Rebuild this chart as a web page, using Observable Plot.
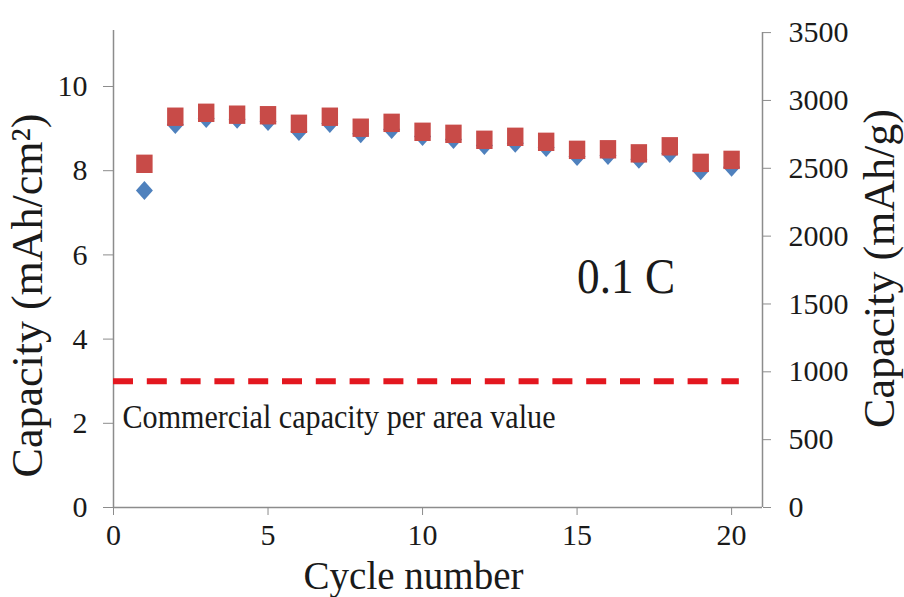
<!DOCTYPE html>
<html><head><meta charset="utf-8">
<script src="https://cdn.jsdelivr.net/npm/d3@7"></script>
<script src="https://cdn.jsdelivr.net/npm/@observablehq/plot@0.6"></script>
<style>body{margin:0;background:#fff} #chart{width:904px;height:597px}</style>
</head><body><div id="chart"></div>
<script>
// ---- data ----
const cycles = [1, 2, 3, 4, 5, 6, 7, 8, 9, 10, 11, 12, 13, 14, 15, 16, 17, 18, 19, 20];
// areal capacity, mAh/cm² (left axis, blue diamonds)
const areaCapacity = [7.53, 9.10, 9.24, 9.22, 9.17, 8.93, 9.12, 8.88, 8.98, 8.81, 8.74, 8.60, 8.65, 8.55, 8.34, 8.36, 8.27, 8.41, 8.00, 8.08];
// specific capacity, mAh/g (right axis, red squares)
const gravCapacity = [2533, 2880, 2909, 2895, 2891, 2828, 2880, 2799, 2835, 2769, 2754, 2710, 2732, 2695, 2636, 2640, 2610, 2662, 2540, 2562];
const commercialArea = [3.0];
const commercialLabel = ["Commercial capacity per area value"];
const rateLabel = ["0.1 C"];
const xTicks = [0, 5, 10, 15, 20];
const leftTicks = [0, 2, 4, 6, 8, 10];
const rightTicks = [0, 500, 1000, 1500, 2000, 2500, 3000, 3500];
const xTitle = ["Cycle number"];
const leftTitle = ["Capacity (mAh/cm²)"];
const rightTitle = ["Capacity (mAh/g)"];

// ---- scale setup ----
const xMax = 21;
const leftMax = 11.33;
const ratio = 3500 / 11.28; // mAh/g per mAh/cm² at the same height
const toLeft = v => v / ratio;

const squareSym = {draw(ctx, size) {
  const r = Math.sqrt(size / Math.PI), w = r * 0.82, h = r * 0.92;
  ctx.rect(-w, -h, 2 * w, 2 * h);
}};
const diamondSym = {draw(ctx, size) {
  const r = Math.sqrt(size / Math.PI), w = r * 0.85, h = r * 0.95;
  ctx.moveTo(0, -h); ctx.lineTo(w, 0); ctx.lineTo(0, h); ctx.lineTo(-w, 0); ctx.closePath();
}};

const serif = "'Liberation Serif', 'Times New Roman', serif";
const axisGray = "#8c8c8c";
const ink = "#1a1a1a";

const chart = Plot.plot({
  width: 904, height: 597,
  marginLeft: 113, marginRight: 142, marginTop: 30, marginBottom: 90,
  x: {domain: [0, xMax]},
  y: {domain: [0, leftMax]},
  style: {fontFamily: serif, background: "#fff", color: ink},
  marks: [
    Plot.ruleX([0], {y1: 0, y2: leftMax, stroke: axisGray, strokeWidth: 1.5}),
    Plot.ruleX([xMax], {y1: 0, y2: toLeft(3500), stroke: axisGray, strokeWidth: 1.5}),
    Plot.ruleY([0], {x1: 0, x2: xMax, stroke: axisGray, strokeWidth: 1.5}),
    Plot.axisY(leftTicks, {anchor: "left", tickSize: 10, tickPadding: 16, fontSize: 30, fontFamily: serif, stroke: axisGray, fill: ink, label: null}),
    Plot.axisY(rightTicks.map(toLeft), {anchor: "right", tickSize: 8, tickPadding: 18, fontSize: 30, fontFamily: serif, stroke: axisGray, fill: ink, label: null,
      tickFormat: d => String(Math.round(d * ratio))}),
    Plot.axisX(xTicks, {anchor: "bottom", tickSize: 8, tickPadding: 8, fontSize: 30, fontFamily: serif, stroke: axisGray, fill: ink, label: null}),
    Plot.ruleY(commercialArea, {x1: 0, x2: 20.25, stroke: "#e3171f", strokeWidth: 6, strokeDasharray: "20,13.8"}),
    Plot.text(commercialLabel, {x: 0, y: commercialArea[0], dx: 9, dy: 47, text: d => d, textAnchor: "start", lineAnchor: "bottom", fontSize: 33, fontFamily: serif, fill: ink}),
    Plot.dot(cycles, {x: d => d, y: (d, i) => areaCapacity[i], symbol: diamondSym, r: 10, fill: "#4f81bd", stroke: "none"}),
    Plot.dot(cycles, {x: d => d, y: (d, i) => toLeft(gravCapacity[i]), symbol: squareSym, r: 10, fill: "#c84b48", stroke: "none"}),
    Plot.text(rateLabel, {x: 15, y: 5.1, text: d => d, textAnchor: "start", lineAnchor: "bottom", fontSize: 50, fontFamily: serif, fill: ink}),
    Plot.text(xTitle, {frameAnchor: "bottom", dx: -24.5, dy: 81, text: d => d, textAnchor: "middle", lineAnchor: "bottom", fontSize: 39, fontFamily: serif, fill: ink}),
    Plot.text(leftTitle, {frameAnchor: "left", rotate: -90, dx: -72, dy: 26.5, text: d => d, textAnchor: "middle", lineAnchor: "bottom", fontSize: 44, fontFamily: serif, fill: ink}),
    Plot.text(rightTitle, {frameAnchor: "right", rotate: -90, dx: 131, dy: -0.5, text: d => d, textAnchor: "middle", lineAnchor: "bottom", fontSize: 44, fontFamily: serif, fill: ink})
  ]
});
document.getElementById("chart").appendChild(chart);

// fit the two annotations to the widths they occupy in the figure
const fits = {"Commercial capacity per area value": 433, "0.1 C": 98};
chart.querySelectorAll("text").forEach(t => {
  const w = fits[t.textContent];
  if (w) { t.setAttribute("textLength", w); t.setAttribute("lengthAdjust", "spacingAndGlyphs"); }
});
</script>
</body></html>
